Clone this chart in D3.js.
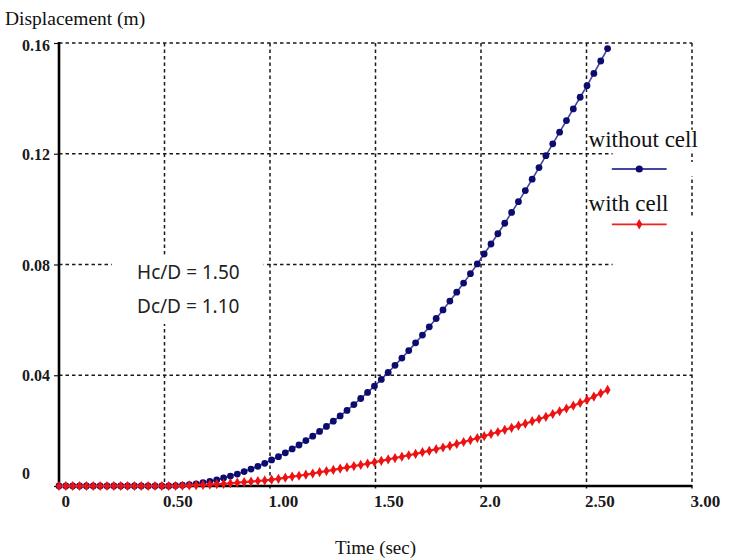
<!DOCTYPE html>
<html>
<head>
<meta charset="utf-8">
<script src="https://cdn.jsdelivr.net/npm/d3@7"></script>
<style>
  html, body { margin: 0; padding: 0; background: #fff; }
  svg { display: block; }
</style>
</head>
<body>
<svg id="chart" width="731" height="558"></svg>
<script>
// ---------- data ----------
const time = [0, 0.0325, 0.065, 0.0975, 0.13, 0.1625, 0.195, 0.2275, 0.26, 0.2925,
  0.325, 0.3575, 0.39, 0.4225, 0.455, 0.4875, 0.52, 0.5525, 0.585, 0.6175,
  0.65, 0.6825, 0.715, 0.7475, 0.78, 0.8125, 0.845, 0.8775, 0.91, 0.9425,
  0.975, 1.0075, 1.04, 1.0725, 1.105, 1.1375, 1.17, 1.2025, 1.235, 1.2675,
  1.3, 1.3325, 1.365, 1.3975, 1.43, 1.4625, 1.495, 1.5275, 1.56, 1.5925,
  1.625, 1.6575, 1.69, 1.7225, 1.755, 1.7875, 1.82, 1.8525, 1.885, 1.9175,
  1.95, 1.9825, 2.015, 2.0475, 2.08, 2.1125, 2.145, 2.1775, 2.21, 2.2425,
  2.275, 2.3075, 2.34, 2.3725, 2.405, 2.4375, 2.47, 2.5025, 2.535, 2.5675, 2.6];

const withoutCell = [0, 0, 0, 0, 0, 0, 0, 0, 0, 0,
  0, 0, 0, 0, 0, 0, 0, 0.0001, 0.0003, 0.0005,
  0.0008, 0.0012, 0.0017, 0.0022, 0.0029, 0.0036, 0.0043, 0.0052, 0.0061, 0.0071,
  0.0082, 0.0094, 0.0106, 0.0120, 0.0134, 0.0148, 0.0164, 0.0180, 0.0197, 0.0215,
  0.0234, 0.0253, 0.0273, 0.0294, 0.0316, 0.0338, 0.0361, 0.0385, 0.0410, 0.0436,
  0.0462, 0.0489, 0.0517, 0.0545, 0.0575, 0.0605, 0.0636, 0.0668, 0.0700, 0.0733,
  0.0767, 0.0802, 0.0838, 0.0874, 0.0911, 0.0949, 0.0988, 0.1027, 0.1067, 0.1108,
  0.1150, 0.1193, 0.1236, 0.1278, 0.1320, 0.1362, 0.1404, 0.1446, 0.1490, 0.1535, 0.1580];

const withCell = [0, 0, 0, 0, 0, 0, 0, 0, 0, 0,
  0, 0, 0, 0, 0, 0, 0, 0, 0.0001, 0.0002,
  0.0003, 0.0004, 0.0005, 0.0007, 0.0008, 0.0010, 0.0012, 0.0014, 0.0016, 0.0018,
  0.0020, 0.0023, 0.0026, 0.0030, 0.0034, 0.0037, 0.0041, 0.0045, 0.0050, 0.0054,
  0.0058, 0.0063, 0.0067, 0.0072, 0.0076, 0.0081, 0.0086, 0.0091, 0.0096, 0.0101,
  0.0106, 0.0111, 0.0116, 0.0122, 0.0127, 0.0133, 0.0139, 0.0145, 0.0152, 0.0159,
  0.0166, 0.0173, 0.0180, 0.0188, 0.0195, 0.0203, 0.0210, 0.0218, 0.0225, 0.0234,
  0.0242, 0.0250, 0.0260, 0.0270, 0.0280, 0.0290, 0.0300, 0.0311, 0.0323, 0.0335, 0.0347];

const xTicks = [0, 0.5, 1, 1.5, 2, 2.5, 3];
const xTickLabels = ["0", "0.50", "1.00", "1.50", "2.0", "2.50", "3.00"];
const yTicks = [0, 0.04, 0.08, 0.12, 0.16];
const yTickLabels = ["0", "0.04", "0.08", "0.12", "0.16"];

const seriesNames = ["without cell", "with cell"];
const annotations = ["Hc/D = 1.50", "Dc/D = 1.10"];

// ---------- layout ----------
const svg = d3.select("#chart");
const x = d3.scaleLinear().domain([0, 3]).range([59, 692]);
const y = d3.scaleLinear().domain([0, 0.16]).range([486, 43]);

const serif = "'Liberation Serif', 'Times New Roman', serif";
const sans = "'Noto Sans', 'Open Sans', sans-serif";

// ---------- grid ----------
const grid = svg.append("g")
  .attr("stroke", "#1a1a1a")
  .attr("stroke-width", 1.5)
  .attr("stroke-dasharray", "3.5,3")
  .attr("fill", "none");

grid.selectAll("line.v")
  .data(xTicks.filter(d => d > 0))
  .join("line")
  .attr("class", "v")
  .attr("x1", d => x(d)).attr("x2", d => x(d))
  .attr("y1", y(0.16)).attr("y2", y(0) + 4);

grid.selectAll("line.h")
  .data(yTicks.filter(d => d > 0))
  .join("line")
  .attr("class", "h")
  .attr("x1", x(0))
  .attr("x2", d => (d === 0.08 || d === 0.12) ? x(2.6) + 5 : x(3))
  .attr("y1", d => y(d)).attr("y2", d => y(d));

// ---------- annotation box ----------
const ann = svg.append("g");
ann.append("rect")
  .attr("x", x(0.25)).attr("y", y(0.0835))
  .attr("width", x(0.97) - x(0.25)).attr("height", y(0.0585) - y(0.0835))
  .attr("fill", "#fff");
ann.selectAll("text")
  .data(annotations)
  .join("text")
  .attr("x", x(0.37))
  .attr("y", (d, i) => y(0.0748) + i * 34)
  .attr("font-family", sans)
  .attr("font-size", 19)
  .attr("fill", "#222")
  .text(d => d);

// ---------- axes ----------
const yAxis = svg.append("g")
  .attr("transform", `translate(${x(0)},0)`)
  .call(d3.axisLeft(y).tickValues(yTicks).tickSize(5)
    .tickFormat((d, i) => yTickLabels[i]));
yAxis.select(".domain").remove();
yAxis.selectAll(".tick line").attr("stroke", "#111").attr("stroke-width", 1.2);
yAxis.selectAll(".tick text")
  .attr("x", -37)
  .attr("text-anchor", "start")
  .attr("dy", (d) => d === 0 ? "-0.45em" : (d === 0.16 ? "0.45em" : "0.35em"))
  .attr("font-family", serif)
  .attr("font-weight", "bold")
  .attr("font-size", 16)
  .attr("fill", "#1a1a1a");

const xAxis = svg.append("g")
  .attr("transform", `translate(0,${y(0)})`)
  .call(d3.axisBottom(x).tickValues(xTicks).tickSize(0)
    .tickFormat((d, i) => xTickLabels[i]));
xAxis.select(".domain").remove();
xAxis.selectAll(".tick text")
  .attr("text-anchor", "start")
  .attr("x", d => d === 0 ? 2 : -2)
  .attr("y", 21)
  .attr("dy", 0)
  .attr("font-family", serif)
  .attr("font-weight", "bold")
  .attr("font-size", 17)
  .attr("fill", "#1a1a1a");

svg.append("line")
  .attr("x1", x(0)).attr("x2", x(0))
  .attr("y1", y(0.16) - 1).attr("y2", y(0) + 1)
  .attr("stroke", "#000").attr("stroke-width", 2.6);
svg.append("line")
  .attr("x1", x(0) - 1).attr("x2", x(3))
  .attr("y1", y(0)).attr("y2", y(0))
  .attr("stroke", "#000").attr("stroke-width", 2.6);

// axis titles
svg.append("text")
  .attr("x", 5).attr("y", 25)
  .attr("font-family", serif).attr("font-size", 19.5)
  .attr("fill", "#111")
  .text("Displacement (m)");
svg.append("text")
  .attr("x", (x(0) + x(3)) / 2).attr("y", 554)
  .attr("text-anchor", "middle")
  .attr("font-family", serif).attr("font-size", 19)
  .attr("fill", "#111")
  .text("Time (sec)");

// ---------- legend ----------
const colors = ["#0c0c70", "#ee1111"];
const lineColors = ["#4646a0", "#ee2222"];
const legend = svg.append("g");
const legendTextY = [y(0.1225), y(0.0995)];
const legendLineY = [y(0.1145), y(0.0945)];
seriesNames.forEach((name, i) => {
  const t = legend.append("text")
    .attr("x", x(2.51)).attr("y", legendTextY[i])
    .attr("font-family", serif).attr("font-size", 23)
    .attr("fill", "#111")
    .text(name);
  const bb = t.node().getBBox();
  legend.insert("rect", "text")
    .attr("x", bb.x + 2).attr("y", bb.y + 3)
    .attr("width", bb.width + 6).attr("height", bb.height - 4)
    .attr("fill", "#fff");
  legend.append("rect")
    .attr("x", x(2.6)).attr("y", legendLineY[i] - 7)
    .attr("width", x(3) - x(2.6) + 4).attr("height", 14)
    .attr("fill", "#fff");
  legend.append("line")
    .attr("x1", x(2.62)).attr("x2", x(2.88))
    .attr("y1", legendLineY[i]).attr("y2", legendLineY[i])
    .attr("stroke", lineColors[i]).attr("stroke-width", 1.8);
  if (i === 0) {
    legend.append("circle")
      .attr("cx", x(2.75)).attr("cy", legendLineY[i]).attr("r", 3.6)
      .attr("fill", colors[i]);
  } else {
    legend.append("path")
      .attr("transform", `translate(${x(2.75)},${legendLineY[i]})`)
      .attr("d", d3.symbol(d3.symbolDiamond, 32)())
      .attr("fill", colors[i]);
  }
});

// ---------- series ----------
const line = d3.line().x(d => x(d[0])).y(d => y(d[1]));
const blueData = time.map((t, i) => [t, withoutCell[i]]);
const redData = time.map((t, i) => [t, withCell[i]]);

svg.append("path")
  .datum(blueData)
  .attr("d", line)
  .attr("fill", "none")
  .attr("stroke", lineColors[0])
  .attr("stroke-width", 1.6);
svg.append("g").selectAll("circle")
  .data(blueData)
  .join("circle")
  .attr("cx", d => x(d[0])).attr("cy", d => y(d[1]))
  .attr("r", 3.4)
  .attr("fill", colors[0]);

svg.append("path")
  .datum(redData)
  .attr("d", line)
  .attr("fill", "none")
  .attr("stroke", lineColors[1])
  .attr("stroke-width", 2.2);
svg.append("g").selectAll("path")
  .data(redData)
  .join("path")
  .attr("transform", d => `translate(${x(d[0])},${y(d[1])})`)
  .attr("d", d3.symbol(d3.symbolDiamond, 30)())
  .attr("fill", colors[1]);
</script>
</body>
</html>
